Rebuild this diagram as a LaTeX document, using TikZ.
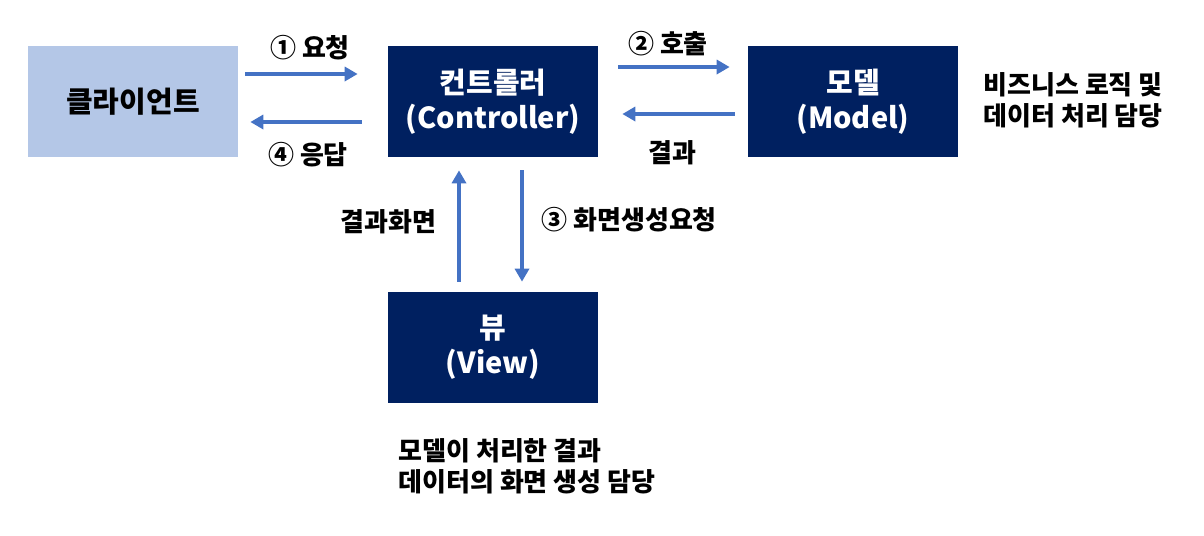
\documentclass[tikz,border=0pt]{standalone}
\usepackage{fontspec}
\setmainfont{Noto Sans CJK KR}
\usepackage{tikz}
\usetikzlibrary{arrows.meta, positioning, calc}
\definecolor{navy}    {HTML}{002060}
\definecolor{paleblue}{HTML}{B4C7E7}
\definecolor{arrblue} {HTML}{4472C4}

\begin{document}
\begin{tikzpicture}[
    x=0.02cm, y=-0.02cm,
    box/.style={rectangle, fill=navy, text=white, align=center,
                minimum width=4.2cm, minimum height=2.22cm, inner sep=0pt,
                font=\fontsize{16.5pt}{20pt}\selectfont\bfseries},
    lbl/.style={inner sep=0pt, font=\fontsize{14.8pt}{17.6pt}\selectfont\bfseries},
    arr/.style={-{Triangle[length=2.6mm, width=2.8mm]}, line width=2pt, color=arrblue},
  ]
    \useasboundingbox (0,0) rectangle (1204,535);

    \node[box, fill=paleblue, text=black] (client) at (133,101.5) {클라이언트};
    \node[box] (ctrl)  at (493,101.5) {컨트롤러\\(Controller)};
    \node[box] (model) at (853,101.5) {모델\\(Model)};
    \node[box] (view)  at (493,347.5) {뷰\\(View)};

    \node[lbl] (req)    at (310,48)  {① 요청};
    \node[lbl] (resp)   at (308,155) {④ 응답};
    \node[lbl] (call)   at (668,44)  {② 호출};
    \node[lbl] (result) at (672,153) {결과};
    \node[lbl, anchor=east] (screen) at (437,222) {결과화면};
    \node[lbl, anchor=west] (make)   at (541,220) {③ 화면생성요청};

    \node[lbl, anchor=north west, align=left] (modeltxt) at (983,72)
      {비즈니스 로직 및\\데이터 처리 담당};
    \node[lbl, anchor=north west, align=left] (viewtxt) at (398,438)
      {모델이 처리한 결과\\데이터의 화면 생성 담당};

    \draw[arr] ($(client.east)+(7,-27.5)$)  -- ($(ctrl.west)+(-30,-27.5)$);
    \draw[arr] ($(ctrl.west)+(-26,20.5)$)   -- ($(client.east)+(12,20.5)$);
    \draw[arr] ($(ctrl.east)+(20,-34.5)$)   -- ($(model.west)+(-18,-34.5)$);
    \draw[arr] ($(model.west)+(-13,12.5)$)  -- ($(ctrl.east)+(24,12.5)$);
    \draw[arr] ($(view.north)+(-34,-10)$)   -- ($(ctrl.south)+(-34,13)$);
    \draw[arr] ($(ctrl.south)+(29,13)$)     -- ($(view.north)+(29,-10)$);
  \end{tikzpicture}
\end{document}
